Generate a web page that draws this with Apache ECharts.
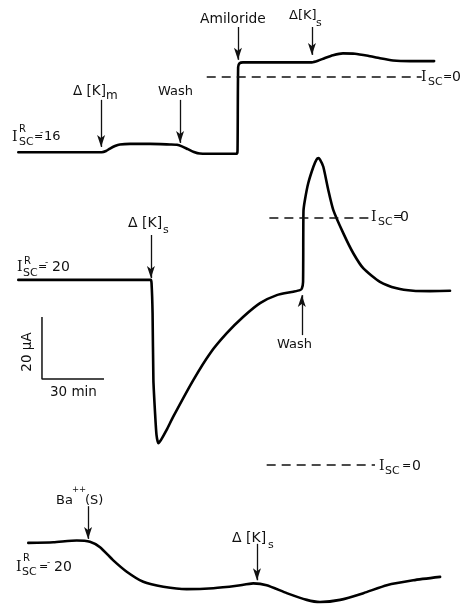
<!DOCTYPE html>
<html>
<head>
<meta charset="utf-8">
<script src="https://cdn.jsdelivr.net/npm/echarts@6/dist/echarts.min.js"></script>
<style>html,body{margin:0;padding:0;background:#fff}#c{width:465px;height:606px}</style>
</head>
<body>
<div id="c"></div>
<script>
// ---- data: time in minutes, short-circuit current in µA (relative to Isc = 0) ----
const trace1 = [[0.15,-24.5],[40.5,-24.5],[42.6,-24.1],[44.5,-23.3],[46.9,-22.5],[49.3,-22.0],[54.2,-21.8],[63.9,-21.8],[73.5,-22.0],[76.9,-22.1],[79.3,-22.6],[82.2,-23.5],[85.1,-24.4],[88.0,-24.9],[97.7,-25.0],[105.8,-25.0],[106.2,-24.0],[106.5,3.0],[107.2,4.2],[108.8,4.5],[126.7,4.5],[142.2,4.5],[145.1,5.0],[148.5,5.9],[152.4,6.8],[157.2,7.4],[163.0,7.3],[169.3,6.6],[175.1,5.8],[181.4,5.1],[189.6,4.9],[201.3,4.9]];
const trace2 = [[0.15,-20.2],[64.2,-20.2],[64.6,-21.2],[65.1,-30.9],[65.5,-52.5],[66.3,-63.1],[67.0,-70.2],[67.9,-72.9],[69.2,-71.8],[71.9,-68.6],[75.1,-64.3],[84.8,-52.5],[92.9,-43.9],[101.0,-37.4],[109.0,-32.1],[117.1,-27.7],[125.2,-25.1],[133.2,-24.0],[136.4,-23.5],[137.3,-23.0],[137.9,-20.9],[138.1,2.0],[138.8,5.6],[140.4,11.0],[142.9,16.3],[144.4,18.6],[145.3,19.1],[146.1,18.6],[147.7,16.3],[150.1,8.8],[152.5,2.4],[157.4,-5.2],[162.2,-11.6],[167.1,-16.5],[175.1,-20.8],[183.2,-22.9],[191.2,-23.7],[199.3,-23.8],[209.0,-23.7]];
const trace3 = [[4.98,-25.4],[17.1,-25.2],[28.4,-24.6],[34.8,-25.0],[39.7,-26.8],[46.1,-31.1],[52.6,-34.8],[60.6,-38.1],[70.3,-39.7],[81.6,-40.5],[94.5,-40.2],[105.8,-39.4],[113.8,-38.6],[120.3,-39.2],[130.0,-41.8],[139.7,-44.0],[146.1,-44.7],[155.8,-44.0],[167.1,-41.8],[178.4,-39.2],[191.2,-37.6],[204.2,-36.5]];
// arrows: [time, from µA, to µA]
const arrows1 = [[40.2,-7.6,-22.8],[78.4,-7.6,-21.5],[106.4,15.9,5.3],[142.2,15.9,6.9]];
const arrows2 = [[64.3,-5.7,-19.6],[137.3,-38.0,-25.1]];
const arrows3 = [[33.9,-13.4,-24.1],[115.6,-25.7,-37.6]];
// dashed Isc = 0 reference segments [from min, to min]
const zero1 = [91.3,195.3];
const zero2 = [121.6,169.5];
const zero3 = [120.3,172.7];
// scale bar: 20 µA by 30 min
const scaleBar = [[11.6,-32.2],[11.6,-52.2],[41.6,-52.2]];

// ---- text annotations: [text, left x, centre y, size, family] ----
const SERIF = 'DejaVu Serif';
const texts = [
  ['Amiloride',200,19,13.8],
  ['Δ[K]',289,16,13],['s',316,23,11],
  ['Δ [K]',73,91,13.5],['m',106,96,12],
  ['Wash',158,92,13],
  ['I',12,137,14,SERIF],['R',19,129,10],['SC',19,142,11],['=',34,137,11],['-',40,133,9],['16',44,137,13],
  ['I',421,77,14,SERIF],['SC',428,82,11],['=',443,77,11],['0',452,77,14],
  ['Δ [K]',128,223,14],['s',163,230,11],
  ['I',17,267,14,SERIF],['R',24,261,10],['SC',23,273,11],['=',38,267,11],['-',45,263,9],['20',52,267,14],
  ['Wash',277,345,13],
  ['30 min',50,392,13.5],
  ['I',371,217,14,SERIF],['SC',378,222,11],['=',393,217,11],['0',400,217,14],
  ['Ba',56,501,13],['++',72,490,8.5],['(S)',85,501,13],
  ['Δ [K]',232,538,14],['s',268,545,11],
  ['I',16,567,14,SERIF],['R',23,558,10],['SC',22,572,11],['=',39,567,11],['-',47,563,9],['20',54,567,14],
  ['I',379,466,14,SERIF],['SC',385,471,11],['=',402,466,11],['0',412,466,14]
];

const INK = '#111';
const grids = [
  {left:18, width:446.5, top:14.3, height:155},
  {left:18, width:446.5, top:139.8, height:325.5},
  {left:18, width:446.5, top:449.8, height:158.1}
];
const yRanges = [[-30,20],[-80,25],[-46,5]];

function arrowLines(arr){
  return arr.map(a => [{coord:[a[0],a[1]]},{coord:[a[0],a[2]]}]);
}
function zeroLine(z){
  return [[{coord:[z[0],0]},{coord:[z[1],0]}]];
}
function traceSeries(i, data, arr){
  return {
    type:'line', xAxisIndex:i, yAxisIndex:i, data:data, showSymbol:false, symbol:'none',
    smooth:0.2, clip:false, silent:true,
    lineStyle:{color:'#000', width:2.6, join:'round', cap:'round'}, z:3,
    markLine:{silent:true, symbol:['none','arrow'], symbolSize:[6,12], label:{show:false},
      lineStyle:{color:INK, width:1.3, type:'solid'}, emphasis:{disabled:true}, data:arrowLines(arr)}
  };
}
function zeroSeries(i, z){
  return {
    type:'line', xAxisIndex:i, yAxisIndex:i, data:[], silent:true,
    markLine:{silent:true, symbol:['none','none'], label:{show:false},
      lineStyle:{color:INK, width:1.5, type:[9,6]}, emphasis:{disabled:true}, data:zeroLine(z)}
  };
}

const graphic = texts.map(t => ({
  type:'text', x:t[1], y:t[2], silent:true,
  style:{text:t[0], fontSize:t[3], fontFamily:t[4]||'DejaVu Sans', fill:INK, align:'left', verticalAlign:'middle'}
}));
graphic.push({type:'text', x:27, y:352, rotation:Math.PI/2, silent:true,
  style:{text:'20 μA', fontSize:13.5, fontFamily:'DejaVu Sans', fill:INK, align:'center', verticalAlign:'middle'}});

const option = {
  backgroundColor:'#fff',
  animation:false,
  grid:grids,
  xAxis:grids.map((g,i)=>({type:'value', gridIndex:i, min:0, max:216, show:false})),
  yAxis:yRanges.map((r,i)=>({type:'value', gridIndex:i, min:r[0], max:r[1], show:false})),
  series:[
    traceSeries(0, trace1, arrows1),
    traceSeries(1, trace2, arrows2),
    traceSeries(2, trace3, arrows3),
    zeroSeries(0, zero1), zeroSeries(1, zero2), zeroSeries(2, zero3),
    {type:'line', xAxisIndex:1, yAxisIndex:1, data:scaleBar, showSymbol:false, symbol:'none', clip:false,
     silent:true, lineStyle:{color:INK, width:1.5}}
  ],
  graphic:graphic
};
const chart = echarts.init(document.getElementById('c'), null, {renderer:'canvas'});
chart.setOption(option);
</script>
</body>
</html>
